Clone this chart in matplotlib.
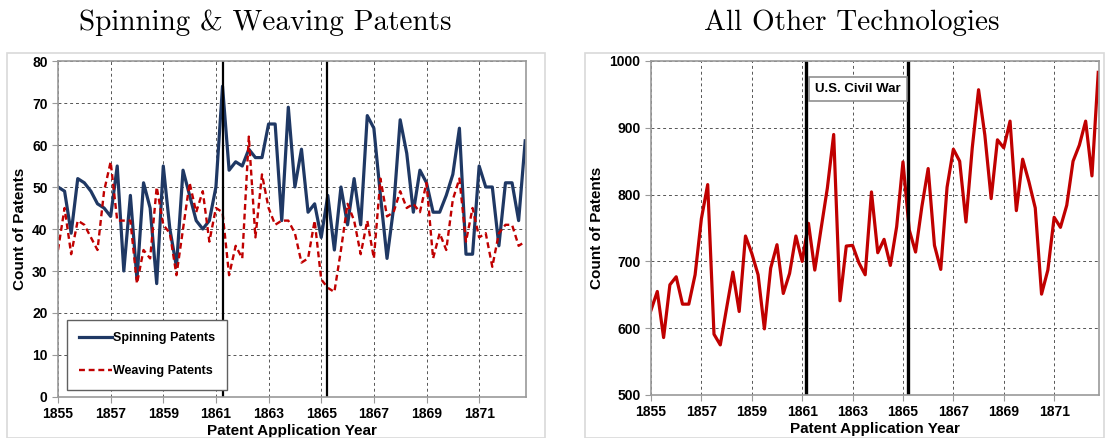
import numpy as np
import matplotlib
matplotlib.use("Agg")
import matplotlib.pyplot as plt
from matplotlib.patches import Rectangle

plt.rcParams['font.family'] = ['Liberation Sans', 'DejaVu Sans']
plt.rcParams['font.weight'] = 'bold'

# quarterly counts, 1855 Q1 .. 1872 Q4
spinning = [50, 49, 39, 52, 51, 49, 46, 45, 43, 55, 30, 48, 28, 51, 45, 27,
            55, 40, 31, 54, 48, 42, 40, 42, 50, 74, 54, 56, 55, 59, 57, 57,
            65, 65, 42, 69, 50, 59, 44, 46, 38, 48, 35, 50, 41, 52, 41, 67,
            64, 48, 33, 45, 66, 58, 44, 54, 51, 44, 44, 48, 53, 64, 34, 34,
            55, 50, 50, 36, 51, 51, 42, 61]
weaving = [35, 45, 34, 42, 41, 38, 35, 49, 56, 42, 42, 42, 27, 35, 33, 50,
           41, 39, 29, 40, 51, 44, 49, 37, 45, 44, 29, 36, 33, 62, 38, 53,
           45, 41, 42, 42, 39, 32, 33, 42, 28, 26, 25, 35, 46, 42, 34, 42,
           33, 52, 43, 44, 49, 45, 46, 44, 51, 33, 39, 35, 47, 52, 37, 45,
           38, 39, 31, 39, 41, 41, 36, 37]
others = [627, 655, 586, 665, 677, 636, 636, 680, 764, 815, 591, 575,
          630, 684, 625, 738, 712, 680, 599, 690, 725, 652, 682, 738,
          700, 757, 687, 749, 810, 890, 641, 723, 724, 698, 680, 804,
          713, 733, 694, 752, 849, 747, 714, 782, 839, 724, 688, 811,
          868, 850, 759, 870, 957, 889, 794, 882, 870, 910, 776, 853,
          819, 780, 651, 687, 766, 751, 784, 850, 874, 910, 828, 983]
years = 1855 + np.arange(len(spinning)) / 4.0
xticks = [1855, 1857, 1859, 1861, 1863, 1865, 1867, 1869, 1871]
war_start, war_end = 1861.25, 1865.22

fig = plt.figure(figsize=(11.06, 4.38), dpi=100)
W, H = 1106, 438

# light outer chart-area borders
for x0, x1 in [(7, 545), (585, 1104)]:
    fig.patches.append(Rectangle((x0 / W, 0), (x1 - x0) / W, 1 - 53 / H,
                                 transform=fig.transFigure, fill=False,
                                 edgecolor='#d9d9d9', lw=1.2))

ax1 = fig.add_axes([58 / W, 1 - 397 / H, 468 / W, 336 / H])
ax2 = fig.add_axes([651 / W, 1 - 395 / H, 448 / W, 334 / H])


def style(ax):
    ax.set_xticks(xticks)
    ax.grid(True, linestyle=(0, (3, 3)), color='#555555', lw=0.7)
    ax.set_axisbelow(True)
    for s in ax.spines.values():
        s.set_color('#9a9a9a')
        s.set_linewidth(1.2)
    ax.tick_params(length=4, color='#9a9a9a', labelsize=10)
    ax.set_xlabel('Patent Application Year', fontsize=11, labelpad=2,
                  fontweight='bold')
    ax.set_ylabel('Count of Patents', fontsize=11, labelpad=4,
                  fontweight='bold')


style(ax1)
ax1.plot(years, spinning, color='#1f3864', lw=2.3, label='Spinning Patents')
ax1.plot(years, weaving, color='#c00000', lw=1.7, ls=(0, (2.5, 1.6)),
         label='Weaving Patents')
ax1.axvline(war_start, color='black', lw=1.6)
ax1.axvline(war_end, color='black', lw=1.6)
ax1.set_xlim(1855, years[-1] + 0.03)
ax1.set_ylim(0, 80)
ax1.set_yticks(range(0, 81, 10))
for lbl in ax1.get_xticklabels() + ax1.get_yticklabels():
    lbl.set_fontweight('bold')
leg = ax1.legend(loc='lower left', bbox_to_anchor=(0.019, 0.021),
                 borderaxespad=0, fancybox=False, edgecolor='#606060',
                 prop={'size': 9, 'weight': 'bold'}, labelspacing=1.7,
                 handlelength=2.6, handletextpad=0.05, borderpad=1.0,
                 framealpha=1)
leg.get_frame().set_linewidth(1.0)

style(ax2)
ax2.plot(years, others, color='#c00000', lw=2.3)
ax2.axvline(war_start - 0.1, color='black', lw=2.4)
ax2.axvline(war_end - 0.02, color='black', lw=2.4)
ax2.set_xlim(1855, years[-1] + 0.03)
ax2.set_ylim(500, 1000)
ax2.set_yticks(range(500, 1001, 100))
for lbl in ax2.get_xticklabels() + ax2.get_yticklabels():
    lbl.set_fontweight('bold')
ax2.text(0.366, 0.915, 'U.S. Civil War', transform=ax2.transAxes,
         fontsize=9.5, fontweight='bold', va='center', ha='left',
         bbox=dict(boxstyle='square,pad=0.45', fc='white', ec='#909090', lw=1.2))

fig.text(265 / W, 1 - 23 / H, 'Spinning & Weaving Patents', family='cmr10',
         weight='normal', fontsize=21, ha='center', va='center')
fig.text(852 / W, 1 - 23 / H, 'All Other Technologies', family='cmr10',
         weight='normal', fontsize=21, ha='center', va='center')

fig.savefig('out.png', dpi=100)
